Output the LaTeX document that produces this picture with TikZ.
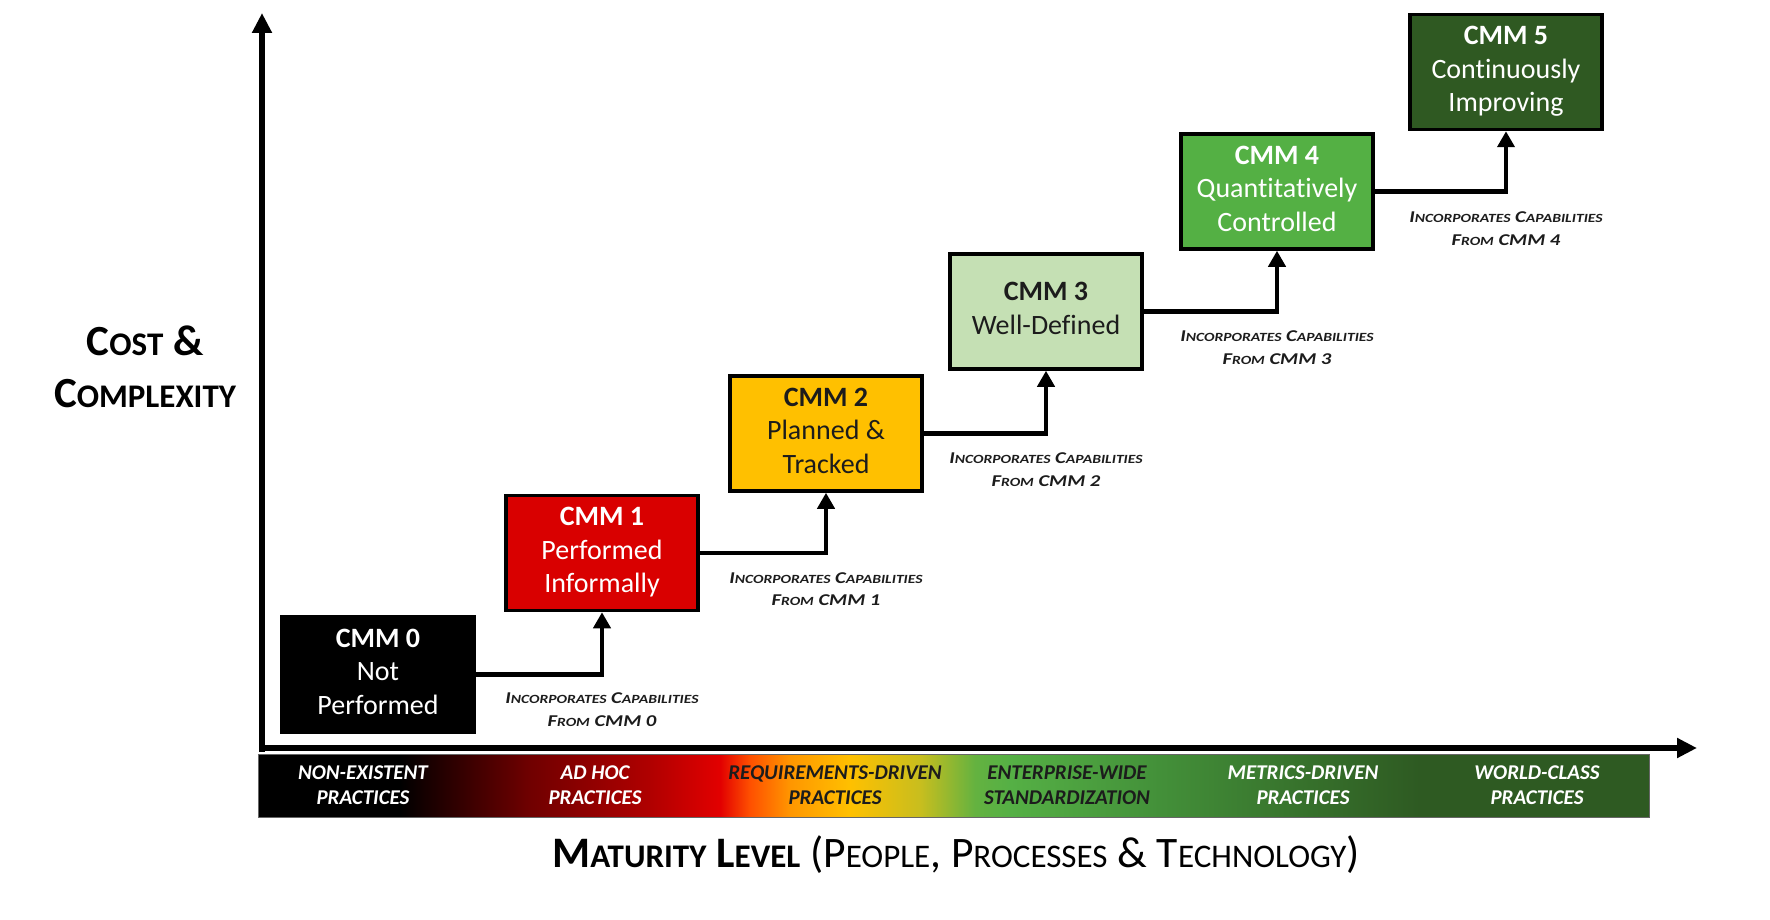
\documentclass[tikz,border=0pt]{standalone}
\usepackage{graphicx}
\usepackage{fontspec}
\setmainfont{Carlito}[Ligatures=NoCommon]
\usetikzlibrary{arrows.meta,calc}
\definecolor{cfill0}{RGB}{0,0,0}
\definecolor{cfill1}{RGB}{217,0,0}
\definecolor{cfill2}{RGB}{255,192,0}
\definecolor{cfill3}{RGB}{197,224,180}
\definecolor{cfill4}{RGB}{84,176,68}
\definecolor{cfill5}{RGB}{47,89,34}
\definecolor{darktext}{RGB}{28,28,28}
\definecolor{gA}{RGB}{112,0,0}
\definecolor{gB}{RGB}{176,0,0}
\definecolor{gC}{RGB}{226,0,0}
\definecolor{gD}{RGB}{255,80,0}
\definecolor{gE}{RGB}{255,150,0}
\definecolor{gF}{RGB}{255,192,0}
\definecolor{gG}{RGB}{200,190,30}
\definecolor{gH}{RGB}{100,178,64}
\definecolor{gI}{RGB}{85,176,69}
\definecolor{gJ}{RGB}{68,146,58}
\definecolor{gK}{RGB}{55,114,44}
\definecolor{gL}{RGB}{46,90,34}
\pgfdeclarehorizontalshading{barshade}{100bp}{color(0bp)=(black); color(25bp)=(black); color(30.1bp)=(black); color(34.78bp)=(gA); color(39.09bp)=(gB); color(41.61bp)=(gC); color(42.68bp)=(gD); color(44.12bp)=(gE); color(46.28bp)=(gF); color(48.8bp)=(gG); color(50.77bp)=(gH); color(52.03bp)=(gI); color(57.06bp)=(gJ); color(62.45bp)=(gK); color(66.77bp)=(gL); color(75bp)=(gL); color(100bp)=(gL)}
\newcommand\fsc[2]{{\fontsize{#1}{#1}\selectfont #2}}
\tikzset{
  cmmbox/.style={draw=black, line width=3.5pt, minimum width=192pt, minimum height=115pt,
    inner sep=0pt, align=center, text depth=6pt, font=\fontsize{28}{33.5}\selectfont},
  axisline/.style={line width=5.5pt, -{Triangle[length=20pt,width=19pt]}},
  conn/.style={line width=4.5pt, -{Triangle[length=16pt,width=17pt]}},
  inclabel/.style={align=center, text=darktext, inner sep=0pt,
    font=\bfseries\itshape\fontsize{16.5}{22.5}\selectfont},
  barlabel/.style={align=center, inner sep=0pt,
    font=\bfseries\itshape\fontsize{21}{25}\selectfont},
}
\newcommand\inctext[1]{\scalebox{1.25}[1]{I\fsc{12.5}{NCORPORATES} C\fsc{12.5}{APABILITIES}}\\\scalebox{1.25}[1]{F\fsc{12.5}{ROM} CMM #1}}
\begin{document}
\begin{tikzpicture}[x=1pt,y=-1pt]
\useasboundingbox (0,0) rectangle (1770,920);
% gradient bar
\shade[shading=barshade, draw=black!60, line width=1pt] (258,754) rectangle (1649,817);
\node[barlabel, text=white] (b0) at (363,785.5) {NON-EXISTENT\\PRACTICES};
\node[barlabel, text=white] (b1) at (595,785.5) {AD HOC\\PRACTICES};
\node[barlabel, text=darktext] (b2) at (835,785.5) {REQUIREMENTS-DRIVEN\\PRACTICES};
\node[barlabel, text=darktext] (b3) at (1067,785.5) {ENTERPRISE-WIDE\\STANDARDIZATION};
\node[barlabel, text=white] (b4) at (1303,785.5) {METRICS-DRIVEN\\PRACTICES};
\node[barlabel, text=white] (b5) at (1537,785.5) {WORLD-CLASS\\PRACTICES};
% axes
\coordinate (ybot) at (262,752);
\coordinate (ytip) at (262,13);
\coordinate (xorg) at (260,748);
\coordinate (xtip) at (1697,748);
\draw[axisline] (ybot) -- (ytip);
\draw[axisline] (xorg) -- (xtip);
% axis titles
\node[align=center, inner sep=0pt, font=\bfseries\fontsize{43}{52}\selectfont] (ylab) at (145,367)
  {C\fsc{33}{OST} \&\\C\fsc{33}{OMPLEXITY}};
\node[inner sep=0pt, font=\fontsize{43.5}{50}\selectfont] (xlab) at (956,855)
  {\textbf{M\fsc{33}{ATURITY} L\fsc{33}{EVEL}} (P\fsc{33}{EOPLE}, P\fsc{33}{ROCESSES} \& T\fsc{33}{ECHNOLOGY})};
% boxes
\node[cmmbox, fill=cfill0, text=white] (c0) at (378,674.5) {\textbf{CMM 0}\\Not\\Performed};
\node[cmmbox, fill=cfill1, text=white] (c1) at (602,553) {\textbf{CMM 1}\\Performed\\Informally};
\node[cmmbox, fill=cfill2, text=darktext] (c2) at (826,433.5) {\textbf{CMM 2}\\Planned \&\\Tracked};
\node[cmmbox, fill=cfill3, text=darktext] (c3) at (1046,311.5) {\textbf{CMM 3}\\Well-Defined};
\node[cmmbox, fill=cfill4, text=white] (c4) at (1277,191.5) {\textbf{CMM 4}\\Quantitatively\\Controlled};
\node[cmmbox, fill=cfill5, text=white] (c5) at (1506,72) {\textbf{CMM 5}\\Continuously\\Improving};
% connectors
\draw[conn] (c0.east) -| (c1.south);
\draw[conn] (c1.east) -| (c2.south);
\draw[conn] (c2.east) -| (c3.south);
\draw[conn] (c3.east) -| (c4.south);
\draw[conn] (c4.east) -| (c5.south);
% labels
\node[inclabel] (l0) at ($(c0.east -| c1.south)+(0,35)$) {\inctext{0}};
\node[inclabel] (l1) at ($(c1.east -| c2.south)+(0,36)$) {\inctext{1}};
\node[inclabel] (l2) at ($(c2.east -| c3.south)+(0,36)$) {\inctext{2}};
\node[inclabel] (l3) at ($(c3.east -| c4.south)+(0,36)$) {\inctext{3}};
\node[inclabel] (l4) at ($(c4.east -| c5.south)+(0,37)$) {\inctext{4}};
\end{tikzpicture}
\end{document}
